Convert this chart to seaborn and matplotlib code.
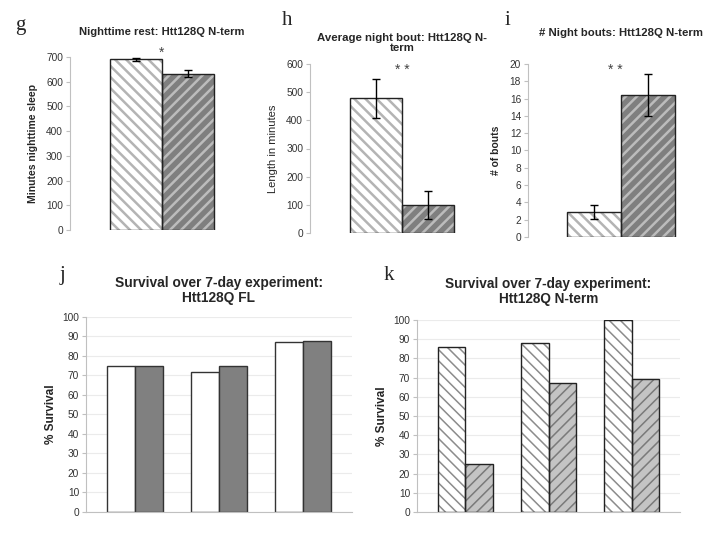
import pandas as pd
import seaborn as sns
import matplotlib.pyplot as plt

sns.set_style("white")
plt.rcParams['font.family'] = ['Liberation Sans', 'DejaVu Sans']
plt.rcParams['hatch.linewidth'] = 1.8

groups = ["control", "Htt128Q"]

rest_mean = [690, 632]
rest_err = [7, 14]
bout_len_mean = [478, 98]
bout_len_err = [70, 50]
bout_n_mean = [2.9, 16.4]
bout_n_err = [0.85, 2.45]

trials = ["1", "2", "3"]
fl_ctrl = [75, 72, 87]
fl_htt = [75, 75, 87.5]
nterm_ctrl = [86, 88, 100]
nterm_htt = [25, 67, 69]


def single_df(means):
    return pd.DataFrame({"x": ["a", "a"], "group": groups, "value": means})


def trial_df(ctrl, htt):
    return pd.DataFrame({"x": trials * 2,
                         "group": [groups[0]] * 3 + [groups[1]] * 3,
                         "value": ctrl + htt})


def hatched_bars(ax, df, width, faces, hatches, hatch_colors, hatch_lw=1.8):
    sns.barplot(data=df, x="x", y="value", hue="group", hue_order=groups,
                palette=faces, width=width, gap=0, errorbar=None,
                legend=False, ax=ax)
    for cont, h, hc in zip(ax.containers, hatches, hatch_colors):
        for p in cont:
            p.set_hatch(h)
            p.set_edgecolor(hc)
            p.set_linewidth(0)
            if hasattr(p, "set_hatch_linewidth"):
                p.set_hatch_linewidth(hatch_lw)
    # black outline on top
    sns.barplot(data=df, x="x", y="value", hue="group", hue_order=groups,
                palette=["#222222", "#222222"], fill=False, linewidth=1,
                width=width, gap=0, errorbar=None, legend=False, ax=ax)


def add_err(ax, errs, capsize=3):
    for cont, e in zip(ax.containers[:2], errs):
        for p in cont:
            xc = p.get_x() + p.get_width() / 2
            ax.errorbar(xc, p.get_height(), yerr=e, color="black", lw=1,
                        capsize=capsize, capthick=1)
    ax.set_xlim(-0.5, 0.5)


def style(ax, ticks, grid=False):
    for s in ["top", "right"]:
        ax.spines[s].set_visible(False)
    ax.spines["left"].set_color("#c0c0c0")
    ax.spines["left"].set_linewidth(0.8)
    if grid:
        ax.spines["bottom"].set_color("#c0c0c0")
        ax.spines["bottom"].set_linewidth(0.8)
        ax.yaxis.grid(True, color="#ebebeb", lw=0.8)
        ax.set_axisbelow(True)
    else:
        ax.spines["bottom"].set_visible(False)
    ax.set_yticks(ticks)
    ax.set_ylim(ticks[0], ticks[-1])
    ax.tick_params(axis="y", left=True, length=3, color="#c0c0c0",
                   labelsize=7.3, labelcolor="#333333", pad=2)
    ax.set_xticks([])
    ax.set_xlabel("")


fig = plt.figure(figsize=(7.2, 5.4), dpi=100)

faces = ["white", "#7f7f7f"]
hatches = ["\\\\\\", "///"]
hcolors = ["#b4b4b4", "#bcbcbc"]

# g
ax_g = fig.add_axes([0.0972, 0.574, 0.2556, 0.3204])
hatched_bars(ax_g, single_df(rest_mean), 0.565, faces, hatches, hcolors)
add_err(ax_g, rest_err)
style(ax_g, list(range(0, 701, 100)))
ax_g.set_ylabel("Minutes nighttime sleep", fontsize=7.5, fontweight="bold", labelpad=6)
ax_g.set_title("Nighttime rest: Htt128Q N-term", fontsize=8.1, fontweight="bold", pad=16)
ax_g.text(0.5, 1.025, "*", transform=ax_g.transAxes, ha="center", va="center",
          fontsize=10, color="#444444")

# h
ax_h = fig.add_axes([0.4306, 0.5685, 0.2556, 0.313])
hatched_bars(ax_h, single_df(bout_len_mean), 0.565, faces, hatches, hcolors)
add_err(ax_h, bout_len_err)
style(ax_h, list(range(0, 601, 100)))
ax_h.set_ylabel("Length in minutes", fontsize=8, labelpad=6)
ax_h.set_title("Average night bout: Htt128Q N-\nterm", fontsize=8.2,
               fontweight="bold", pad=9, linespacing=1.1)
ax_h.text(0.5, 0.965, "* *", transform=ax_h.transAxes, ha="center", va="center",
          fontsize=10, color="#444444")

# i
ax_i = fig.add_axes([0.7333, 0.5611, 0.258, 0.3204])
hatched_bars(ax_i, single_df(bout_n_mean), 0.58, faces, hatches, hcolors)
add_err(ax_i, bout_n_err)
style(ax_i, list(range(0, 21, 2)))
ax_i.set_ylabel("# of bouts", fontsize=7.5, fontweight="bold", labelpad=6)
ax_i.set_title("# Night bouts: Htt128Q N-term", fontsize=8.2, fontweight="bold", pad=20)
ax_i.text(0.47, 0.965, "* *", transform=ax_i.transAxes, ha="center", va="center",
          fontsize=10, color="#444444")

# j
ax_j = fig.add_axes([0.1194, 0.0519, 0.3694, 0.3611])
sns.barplot(data=trial_df(fl_ctrl, fl_htt), x="x", y="value", hue="group",
            hue_order=groups, palette=["white", "#808080"], width=0.667, gap=0,
            edgecolor="#333333", linewidth=1, errorbar=None, legend=False, ax=ax_j)
ax_j.set_xlim(-0.583, 2.583)
style(ax_j, list(range(0, 101, 10)), grid=True)
ax_j.set_ylabel("% Survival", fontsize=8.5, fontweight="bold", labelpad=4)
ax_j.set_title("Survival over 7-day experiment:\nHtt128Q FL", fontsize=9.9,
               fontweight="bold", pad=11, linespacing=1.1)

# k
ax_k = fig.add_axes([0.5792, 0.0519, 0.3653, 0.3556])
hatched_bars(ax_k, trial_df(nterm_ctrl, nterm_htt), 0.667,
             ["white", "#c4c4c4"], ["\\\\\\", "///"], ["#8c8c8c", "#7a7a7a"],
             hatch_lw=1.1)
ax_k.set_xlim(-0.583, 2.583)
style(ax_k, list(range(0, 101, 10)), grid=True)
ax_k.set_ylabel("% Survival", fontsize=8.5, fontweight="bold", labelpad=4)
ax_k.set_title("Survival over 7-day experiment:\nHtt128Q N-term", fontsize=9.8,
               fontweight="bold", pad=12, linespacing=1.1)

# panel letters
for x, y, s in [(15, 30, "g"), (282, 25, "h"), (505, 25, "i"),
                (60, 280, "j"), (384, 280, "k")]:
    fig.text(x / 720, 1 - y / 540, s, fontsize=15, family="Liberation Serif")

fig.savefig("out.png", dpi=100)
